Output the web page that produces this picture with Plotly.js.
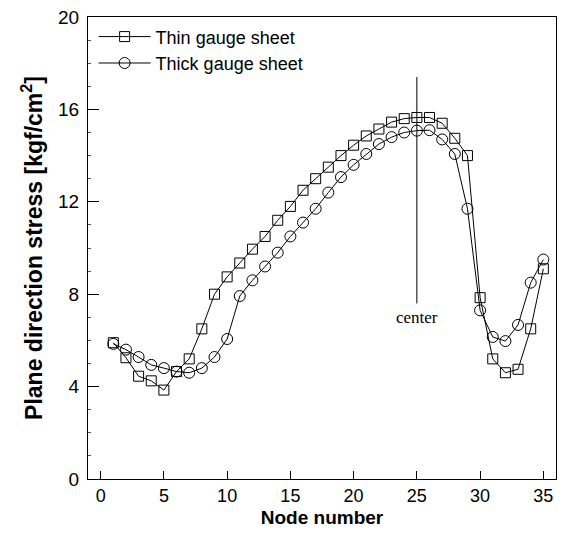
<!DOCTYPE html>
<html>
<head>
<meta charset="utf-8">
<script src="https://cdn.plot.ly/plotly-3.0.1.min.js"></script>
<style>html,body{margin:0;padding:0;background:#fff;}#chart{width:564px;height:543px;}</style>
</head>
<body>
<div id="chart"></div>
<script>
const nodes = [1,2,3,4,5,6,7,8,9,10,11,12,13,14,15,16,17,18,19,20,21,22,23,24,25,26,27,28,29,30,31,32,33,34,35];
const thinGauge = [5.9,5.25,4.45,4.25,3.85,4.65,5.2,6.5,8.0,8.75,9.35,9.95,10.5,11.2,11.8,12.5,13.0,13.5,14.0,14.45,14.85,15.15,15.45,15.6,15.65,15.65,15.4,14.75,14.0,7.85,5.2,4.6,4.75,6.5,9.1];
const thickGauge = [5.85,5.6,5.28,4.94,4.8,4.65,4.6,4.8,5.28,6.06,7.92,8.6,9.2,9.8,10.5,11.1,11.7,12.4,13.07,13.6,14.07,14.5,14.8,15.0,15.08,15.1,14.7,14.07,11.7,7.3,6.15,5.97,6.67,8.5,9.5];
const seriesNames = ["Thin gauge sheet","Thick gauge sheet"];
const centerNode = 25;
const centerSpan = [7.6, 17.4];
const centerLabel = "center";
const xTicks = [0,5,10,15,20,25,30,35];
const yTicks = [0,4,8,12,16,20];

const sans = "Liberation Sans, Arial, sans-serif";
const traces = [
  {x: nodes, y: thinGauge, name: seriesNames[0], type: "scatter", mode: "lines+markers",
   line: {color: "#000", width: 1},
   marker: {symbol: "square-open", size: 10, color: "#000", line: {width: 1, color: "#000"}}},
  {x: nodes, y: thickGauge, name: seriesNames[1], type: "scatter", mode: "lines+markers",
   line: {color: "#000", width: 1},
   marker: {symbol: "circle-open", size: 11, color: "#000", line: {width: 1, color: "#000"}}}
];
const layout = {
  width: 564, height: 543,
  margin: {l: 88, r: 8, t: 17, b: 64, pad: 0},
  paper_bgcolor: "#fff", plot_bgcolor: "#fff",
  showlegend: true,
  legend: {x: 0.012, y: 0.997, xanchor: "left", yanchor: "top", bgcolor: "rgba(0,0,0,0)",
           font: {family: sans, size: 18, color: "#000"}, itemwidth: 52, tracegroupgap: 0},
  xaxis: {range: [-1, 36], tickvals: xTicks, ticks: "inside", ticklen: 8, tickcolor: "#000",
          showline: true, mirror: true, linecolor: "#000", linewidth: 1, showgrid: false, zeroline: false,
          tickfont: {family: sans, size: 18, color: "#000"},
          title: {text: "Node number", font: {family: sans, size: 19, color: "#000", weight: "bold"}, standoff: 6}},
  yaxis: {range: [0, 20], tickvals: yTicks, ticks: "inside", ticklen: 11, tickcolor: "#000",
          minor: {ticks: "inside", ticklen: 3, dtick: 1, tickcolor: "#555", showgrid: false},
          showline: true, mirror: true, linecolor: "#000", linewidth: 1, showgrid: false, zeroline: false,
          tickfont: {family: sans, size: 19, color: "#000"}, ticklabelstandoff: 4,
          title: {text: "Plane direction stress [kgf/cm<sup>2</sup>]", font: {family: sans, size: 23, color: "#000", weight: "bold"}, standoff: 9}},
  shapes: [{type: "line", xref: "x", yref: "y", x0: centerNode, x1: centerNode, y0: centerSpan[0], y1: centerSpan[1],
            line: {color: "#000", width: 1}}],
  annotations: [{x: centerNode, y: 7.0, xref: "x", yref: "y", text: centerLabel, showarrow: false,
                 font: {family: "Liberation Serif, Times New Roman, serif", size: 17, color: "#000"}}]
};
Plotly.newPlot("chart", traces, layout, {staticPlot: true, displayModeBar: false});
</script>
</body>
</html>
